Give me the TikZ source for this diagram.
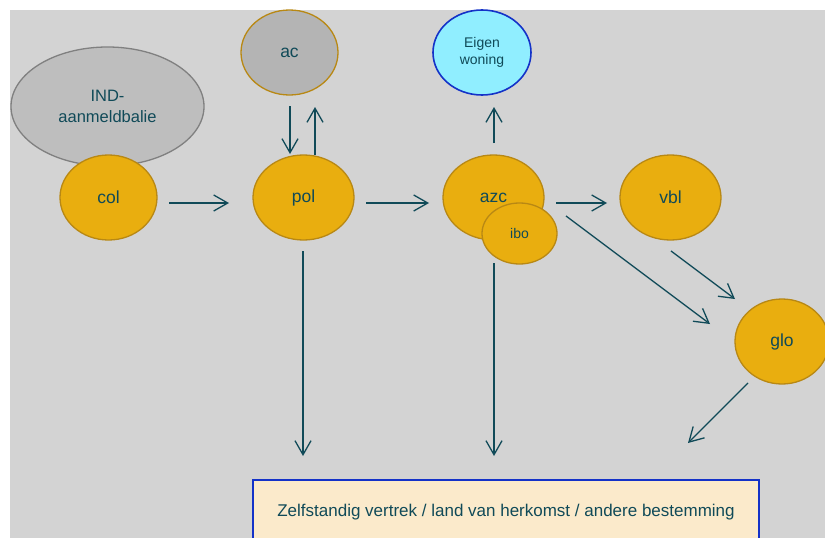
\documentclass[tikz,border=0pt]{standalone}
\usepackage{fontspec}
\setmainfont{Liberation Sans}
\usepackage{xcolor}
\usepackage{tikz}
\usetikzlibrary{positioning}
\usetikzlibrary{arrows.meta,shapes}
\usetikzlibrary{calc}
\definecolor{ink}{RGB}{16,74,88}
\definecolor{bggrey}{RGB}{211,211,211}
\definecolor{gold}{RGB}{233,174,15}
\definecolor{golddark}{RGB}{184,136,20}
\definecolor{indgrey}{RGB}{190,190,190}
\definecolor{indline}{RGB}{128,128,128}
\definecolor{acgrey}{RGB}{180,180,180}
\definecolor{cyanfill}{RGB}{144,238,255}
\definecolor{blueline}{RGB}{20,50,200}
\definecolor{cream}{RGB}{251,234,203}
\tikzstyle{stage}=[ellipse,draw=golddark,fill=gold,line width=1.3pt,inner sep=0pt,outer sep=0pt,minimum height=85pt,text=ink,align=center,font=\fontsize{17.5}{20}\selectfont]
\tikzstyle{smallstage}=[stage,font=\fontsize{14}{17}\selectfont]
\tikzstyle{edge} = [draw,line width=1.3pt,ink,-{Straight Barb[length=14pt,width=16pt]}]
\tikzset{exitbox/.style={rectangle,draw=blueline,fill=cream,line width=2pt,inner sep=0pt,outer sep=0pt,minimum width=506pt,minimum height=65pt,text=ink,font=\fontsize{17}{20}\selectfont}}

\begin{document}
\begin{tikzpicture}[x=1pt,y=-1pt]

 \useasboundingbox (0,0) rectangle (825,538);
 \fill[bggrey] (10,10) rectangle (825,538);

 %IND
 \node[stage, draw=indline, fill=indgrey, minimum width=193pt, minimum height=119pt, font=\fontsize{16.5}{21}\selectfont] (ind) at (107.5,106.5) {IND-\\aanmeldbalie};

 %top row
 \node[stage, fill=acgrey, minimum width=97pt] (ac) at (289.5,52.5) {ac};
 \node[smallstage, draw=blueline, line width=1.6pt, fill=cyanfill, minimum width=98pt] (eigen) at (482,52.5) {Eigen\\woning};

 %middle row
   \foreach \x/\y/\w/\name/\label in { 108.5/197.5/97/col/col, 303.5/197.5/101/pol/pol, 493.5/197.5/101/azc/azc, 670.5/197.5/101/vbl/vbl, 782/341.5/94/glo/glo}
          \node[stage, minimum width=\w pt] (\name) at (\x,\y) {\label};

 \node[smallstage, minimum width=75pt, minimum height=61pt] (ibo) at (519.5,233.5) {ibo};

 %exit
 \node[exitbox] (exit) at (506,512.5) {Zelfstandig vertrek / land van herkomst / andere bestemming};

 %arrows
  \foreach \src/\sx/\sy/\dst/\tx/\ty in {col.east/12/5.5/pol.west/-24/5.5, pol.east/12/5.5/azc.west/-14/5.5, azc.east/12/5.5/vbl.west/-13/5.5,
        ac.south/0.5/11/pol.north/-13.5/-1, pol.north/11.5/0/ac.south/25.5/12, azc.north/0.5/-12/eigen.south/12/12,
        azc.east/22/18.5/glo.west/-25/-17.5, vbl.south/0.5/11/glo.north/-47/0}
         \path[edge] ($(\src)+(\sx,\sy)$) -- ($(\dst)+(\tx,\ty)$);

  \foreach \src/\sx/\sy/\dst/\tx/\ty in {pol.south/-0.5/11/exit.north/-203/-24, azc.south/0.5/23/exit.north/-12/-24, glo.south/-34/-1/exit.north/182/-37}
         \path[edge] ($(\src)+(\sx,\sy)$) -- ($(\dst)+(\tx,\ty)$);

\end{tikzpicture}
\end{document}
